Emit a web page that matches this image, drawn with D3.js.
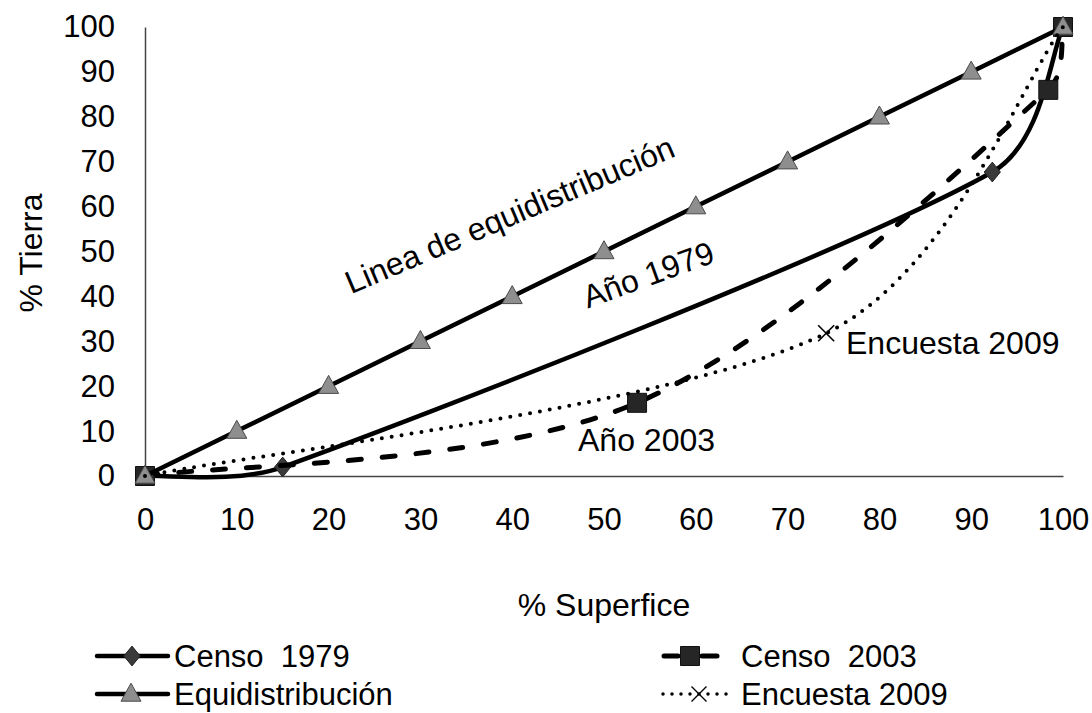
<!DOCTYPE html>
<html>
<head>
<meta charset="utf-8">
<script src="https://cdn.jsdelivr.net/npm/d3@7"></script>
<style>
  html, body { margin: 0; padding: 0; background: #fff; }
  svg { display: block; }
  text { font-family: "Liberation Sans", Arial, sans-serif; fill: #000; white-space: pre; }
</style>
</head>
<body>
<svg id="chart" width="1092" height="713"></svg>
<script>
// ---------- data ----------
const xTicks = [0, 10, 20, 30, 40, 50, 60, 70, 80, 90, 100];
const yTicks = [0, 10, 20, 30, 40, 50, 60, 70, 80, 90, 100];

const equiX = [0, 10, 20, 30, 40, 50, 60, 70, 80, 90, 100];
const equiY = [0, 10, 20, 30, 40, 50, 60, 70, 80, 90, 100];

const censo1979X = [0, 15, 92.3, 100];
const censo1979Y = [0, 2, 67.7, 100];

const censo2003X = [0, 53.6, 98.4, 100];
const censo2003Y = [0, 16.3, 86, 100];

const encuesta2009X = [0, 74.2, 100];
const encuesta2009Y = [0, 31.8, 100];

const seriesNames = ["Censo\u00A0\u00A01979", "Censo\u00A0\u00A02003", "Equidistribución", "Encuesta 2009"];
const annotations = ["Linea de equidistribución", "Año 1979", "Año 2003", "Encuesta 2009"];
const xTitle = "% Superfice";
const yTitle = "% Tierra";

// ---------- layout ----------
const svg = d3.select("#chart");
const FS = 32, TFS = 31, LFS = 31;
const x = d3.scaleLinear().domain([0, 100]).range([145, 1063]);
const y = d3.scaleLinear().domain([0, 100]).range([476, 27]);

const zip = (xs, ys) => xs.map((v, i) => [v, ys[i]]);

// spreadsheet-style smoothing: cubic Bezier, control handles = (P[i+1]-P[i-1])/6, clamped to a share of the segment length
function smoothCurve(context) {
  let pts = [];
  return {
    areaStart() {}, areaEnd() {},
    lineStart() { pts = []; },
    point(px, py) { pts.push([+px, +py]); },
    lineEnd() {
      const n = pts.length;
      if (!n) return;
      context.moveTo(pts[0][0], pts[0][1]);
      if (n === 1) return;
      const tan = i => {
        const a = pts[Math.max(0, i - 1)], b = pts[Math.min(n - 1, i + 1)];
        return [(b[0] - a[0]) / 6, (b[1] - a[1]) / 6];
      };
      const clamp = (t, L) => {
        const m = Math.hypot(t[0], t[1]), lim = 0.36 * L;
        return m > lim ? [t[0] * lim / m, t[1] * lim / m] : t;
      };
      for (let i = 0; i < n - 1; i++) {
        const p = pts[i], q = pts[i + 1];
        const L = Math.hypot(q[0] - p[0], q[1] - p[1]);
        const t0 = clamp(tan(i), L), t1 = clamp(tan(i + 1), L);
        context.bezierCurveTo(p[0] + t0[0], p[1] + t0[1], q[0] - t1[0], q[1] - t1[1], q[0], q[1]);
      }
    }
  };
}
const line = d3.line().x(d => x(d[0])).y(d => y(d[1])).curve(smoothCurve);
const straight = d3.line().x(d => x(d[0])).y(d => y(d[1]));

// axes (no tick marks)
const xAxis = svg.append("g").attr("transform", `translate(0,${y(0)})`)
  .call(d3.axisBottom(x).tickValues(xTicks).tickSize(0).tickPadding(32).tickFormat(d3.format("d")));
xAxis.select(".domain").attr("stroke", "#444").attr("stroke-width", 1.5);
xAxis.selectAll("text").style("font-size", TFS + "px").style("font-family", "Liberation Sans, Arial, sans-serif").attr("fill", "#000");

const yAxis = svg.append("g").attr("transform", `translate(${x(0)},0)`)
  .call(d3.axisLeft(y).tickValues(yTicks).tickSize(0).tickPadding(30).tickFormat(d3.format("d")));
yAxis.select(".domain").attr("stroke", "#444").attr("stroke-width", 1.5);
yAxis.selectAll("text").style("font-size", TFS + "px").style("font-family", "Liberation Sans, Arial, sans-serif").attr("fill", "#000");

// axis titles
svg.append("text").attr("x", 604).attr("y", 616).attr("text-anchor", "middle")
  .style("font-size", FS + "px").text(xTitle);
svg.append("text").attr("transform", "translate(42,253) rotate(-90)").attr("text-anchor", "middle")
  .style("font-size", FS + "px").text(yTitle);

// custom marker shapes
const diamondType = { draw(ctx, s) { const w = s * 0.45, h = s * 0.55; ctx.moveTo(0, -h); ctx.lineTo(w, 0); ctx.lineTo(0, h); ctx.lineTo(-w, 0); ctx.closePath(); } };
const triType = { draw(ctx, s) { const w = s / 2, h = s * 0.9; ctx.moveTo(0, -h * 0.6); ctx.lineTo(w, h * 0.4); ctx.lineTo(-w, h * 0.4); ctx.closePath(); } };
const squareType = { draw(ctx, s) { const h = s / 2; ctx.rect(-h, -h, s, s); } };
const crossType = { draw(ctx, s) { const h = s / 2; ctx.moveTo(-h, -h); ctx.lineTo(h, h); ctx.moveTo(h, -h); ctx.lineTo(-h, h); } };

const styles = {
  c1979: { dash: null, width: 4.5, cap: "round", sym: diamondType, size: 18, fill: "#3a3a3a", stroke: "#222" },
  c2003: { dash: "13,21", width: 5, cap: "round", sym: squareType, size: 19, fill: "#262626", stroke: "#111" },
  equi:  { dash: null, width: 4.5, cap: "round", sym: triType, size: 20, fill: "#8e8e8e", stroke: "#4a4a4a" },
  e2009: { dash: "0,10", width: 4, cap: "round", sym: crossType, size: 16, fill: "none", stroke: "#000" }
};

function drawSeries(pts, st, gen, markerIdx) {
  svg.append("path").attr("d", gen(pts)).attr("fill", "none").attr("stroke", "#000")
    .attr("stroke-width", st.width).attr("stroke-linecap", st.cap).attr("stroke-linejoin", "round")
    .attr("stroke-dasharray", st.dash);
  const mpts = markerIdx ? markerIdx.map(i => pts[i]) : pts;
  svg.append("g").selectAll("path").data(mpts).join("path")
    .attr("transform", d => `translate(${x(d[0])},${y(d[1])})`)
    .attr("d", d3.symbol().type(st.sym).size(st.size))
    .attr("fill", st.fill).attr("stroke", st.stroke).attr("stroke-width", st.sym === crossType ? 1.6 : 1);
}

drawSeries(zip(censo1979X, censo1979Y), styles.c1979, line);
drawSeries(zip(censo2003X, censo2003Y), styles.c2003, line);
drawSeries(zip(equiX, equiY), styles.equi, straight);
drawSeries(zip(encuesta2009X, encuesta2009Y), styles.e2009, line, [1]);

// annotations
svg.append("text").attr("transform", "translate(514,225) rotate(-23)").attr("text-anchor", "middle")
  .style("font-size", FS + "px").text(annotations[0]);
svg.append("text").attr("transform", "translate(652,285) rotate(-20)").attr("text-anchor", "middle")
  .style("font-size", FS + "px").text(annotations[1]);
svg.append("text").attr("x", 578).attr("y", 451).style("font-size", FS + "px").text(annotations[2]);
svg.append("text").attr("x", 846).attr("y", 354).style("font-size", FS + "px").text(annotations[3]);

// legend
function legendItem(x0, x1, cy, st, tx, name, mx) {
  const g = svg.append("g");
  if (st.dash && st.dash.startsWith("0")) {
    g.append("line").attr("x1", x0).attr("x2", x1).attr("y1", cy).attr("y2", cy)
      .attr("stroke", "#000").attr("stroke-width", 3.5).attr("stroke-linecap", "round").attr("stroke-dasharray", "0,9");
  } else if (st.dash) {
    g.append("line").attr("x1", x0).attr("x2", mx - 12).attr("y1", cy).attr("y2", cy)
      .attr("stroke", "#000").attr("stroke-width", 5).attr("stroke-linecap", "round");
    g.append("line").attr("x1", mx + 12).attr("x2", x1).attr("y1", cy).attr("y2", cy)
      .attr("stroke", "#000").attr("stroke-width", 5).attr("stroke-linecap", "round");
  } else {
    g.append("line").attr("x1", x0).attr("x2", x1).attr("y1", cy).attr("y2", cy)
      .attr("stroke", "#000").attr("stroke-width", 4.5).attr("stroke-linecap", "round");
  }
  g.append("path").attr("transform", `translate(${mx},${cy})`)
    .attr("d", d3.symbol().type(st.sym).size(st.sym === crossType ? 15 : st.size))
    .attr("fill", st.fill).attr("stroke", st.stroke).attr("stroke-width", st.sym === crossType ? 1.4 : 1);
  g.append("text").attr("x", tx).attr("y", cy).attr("dy", "0.35em").style("font-size", LFS + "px").text(name);
}
legendItem(97, 168, 656, styles.c1979, 174, seriesNames[0], 132);
legendItem(664, 717, 656, styles.c2003, 741, seriesNames[1], 690);
legendItem(97, 168, 694, styles.equi, 174, seriesNames[2], 131);
legendItem(663, 730, 694, styles.e2009, 741, seriesNames[3], 699);
</script>
</body>
</html>
